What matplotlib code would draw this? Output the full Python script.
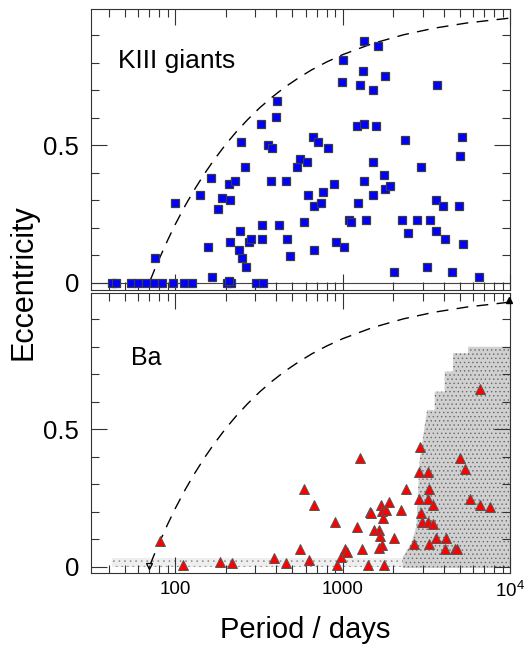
import matplotlib
matplotlib.use("Agg")
from matplotlib import pyplot as plt
from matplotlib.ticker import FixedLocator, FixedFormatter, LogLocator, NullFormatter

plt.rcParams["font.family"] = ["Liberation Sans", "DejaVu Sans"]
plt.rcParams["mathtext.fontset"] = "custom"
plt.rcParams["mathtext.rm"] = "Liberation Sans"
plt.rcParams["hatch.linewidth"] = 0.5

# KIII giants (top panel)
giant_period = [42, 44.5, 54.5, 60, 67, 74.7, 83, 97, 113, 126, 204, 215, 302, 335,
                75.7, 99, 140, 163, 157, 166, 180, 190, 209, 212, 227, 246, 259,
                212, 244, 241, 249, 265, 277, 284, 209, 326, 329, 330, 357, 378,
                375, 398, 407, 417, 459, 462, 483, 531, 553, 610, 588, 621, 659,
                707, 668, 668, 738, 759, 813, 883, 912, 1010, 982, 1005, 1083,
                1123, 1216, 1233, 1268, 1310, 1334, 1328, 1341, 1377, 1505, 1505,
                1513, 1585, 1630, 1763, 1787, 1779, 1924, 2014, 2253, 2349, 2449,
                2775, 2906, 3190, 3326, 3600, 3616, 3650, 3984, 4076, 4496, 4930,
                5023, 5140, 5238, 6457]
giant_ecc = [0, 0, 0, 0, 0, 0, 0, 0, 0, 0, 0, 0, 0, 0,
             0.089, 0.289, 0.319, 0.38, 0.129, 0.019, 0.268, 0.309, 0.36, 0.30,
             0.369, 0.51, 0.42, 0.149, 0.189, 0.119, 0.089, 0.058, 0.149, 0.159,
             0.007, 0.579, 0.209, 0.159, 0.499, 0.49, 0.369, 0.601, 0.66, 0.209,
             0.369, 0.159, 0.098, 0.42, 0.45, 0.439, 0.22, 0.319, 0.53, 0.51,
             0.279, 0.119, 0.289, 0.329, 0.49, 0.359, 0.149, 0.129, 0.729, 0.81,
             0.229, 0.22, 0.57, 0.289, 0.721, 0.771, 0.881, 0.579, 0.369, 0.229,
             0.439, 0.319, 0.701, 0.57, 0.862, 0.39, 0.751, 0.34, 0.35, 0.038,
             0.229, 0.519, 0.18, 0.229, 0.42, 0.058, 0.229, 0.189, 0.30, 0.721,
             0.279, 0.159, 0.038, 0.279, 0.46, 0.53, 0.14, 0.019]

# Ba stars (bottom panel)
ba_period = [80.8, 111, 186, 218, 387, 458, 555, 588, 631, 675, 899, 920, 977, 1024,
             1058, 1211, 1268, 1303, 1403, 1449, 1470, 1535, 1652, 1668, 1690, 1706,
             1730, 1706, 1645, 1763, 1812, 1889, 2014, 2232, 2393, 2663, 2867, 2840,
             2851, 2906, 2946, 3235, 3252, 3235, 3218, 3268, 3468, 3468, 3581, 4076,
             4113, 4645, 4790, 5000, 5359, 5745, 6543, 6543, 7590]
ba_ecc = [0.095, 0.005, 0.018, 0.015, 0.03, 0.015, 0.064, 0.283, 0.024, 0.225, 0.164,
          0.005, 0.036, 0.064, 0.055, 0.143, 0.394, 0.064, 0.005, 0.2, 0.195, 0.133,
          0.133, 0.112, 0.225, 0.204, 0.176, 0.079, 0.067, 0.005, 0.206, 0.237,
          0.103, 0.206, 0.283, 0.083, 0.434, 0.343, 0.245, 0.194, 0.164, 0.346,
          0.283, 0.245, 0.164, 0.083, 0.225, 0.154, 0.103, 0.063, 0.103, 0.063,
          0.063, 0.394, 0.354, 0.245, 0.646, 0.225, 0.216]

# upper envelope (dashed)
curve_period = [71, 75, 80, 90, 100, 115, 130, 150, 170, 200, 230, 270, 320, 380,
                450, 550, 650, 800, 1000, 1500, 2300, 3500, 5500, 10000]
curve_ecc = [0.009, 0.045, 0.085, 0.154, 0.212, 0.282, 0.338, 0.398, 0.446, 0.503,
             0.547, 0.593, 0.637, 0.676, 0.711, 0.747, 0.774, 0.803, 0.830, 0.870,
             0.902, 0.926, 0.945, 0.963]

# simulated population, outline of the dense region (left edge vs eccentricity)
sim_ecc = [-0.005, 0.035, 0.086, 0.145, 0.39, 0.57, 0.57, 0.637, 0.637, 0.71, 0.71,
           0.777, 0.777, 0.80]
sim_left = [2280, 2280, 2560, 2745, 2870, 3180, 3530, 3530, 4050, 4050, 4540, 4540,
            5585, 5585]
# sparse band at low eccentricity
band_period = [42, 2280]
band_low = [-0.002, -0.002]
band_high = [0.032, 0.032]

fig = plt.figure(figsize=(5.31, 6.45), dpi=100)
ax1 = fig.add_axes([0.1723, 0.5504, 0.789, 0.4357])
ax2 = fig.add_axes([0.1723, 0.1121, 0.789, 0.4332])

for ax in (ax1, ax2):
    ax.set_xscale("log")
    ax.set_xlim(10 ** 1.5, 1e4)
    ax.plot(curve_period, curve_ecc, color="black", lw=1.0, dashes=(8.5, 6), zorder=4)
    ax.yaxis.set_major_locator(FixedLocator([0, 0.5]))
    ax.yaxis.set_major_formatter(FixedFormatter(["0", "0.5"]))
    ax.yaxis.set_minor_locator(FixedLocator([0.1, 0.2, 0.3, 0.4, 0.6, 0.7, 0.8, 0.9]))
    ax.xaxis.set_major_locator(FixedLocator([100, 1000, 10000]))
    ax.xaxis.set_minor_locator(LogLocator(subs=range(2, 10)))
    ax.xaxis.set_minor_formatter(NullFormatter())
    ax.tick_params(which="both", direction="in", top=True, right=True,
                   width=0.8, color="#333333")
    ax.tick_params(which="major", length=11.5, labelsize=18.5, pad=9)
    ax.tick_params(which="minor", length=6)
    ax.tick_params(axis="x", labelsize=13.5, pad=6)
    for s in ax.spines.values():
        s.set_linewidth(0.8)
        s.set_color("#333333")

ax1.set_ylim(-0.027, 0.996)
ax2.set_ylim(-0.022, 0.995)

ax1.axhline(0, color="#444444", lw=0.8, zorder=1)
ax1.plot(giant_period, giant_ecc, "s", ms=5.5, mfc="#0000ff", mec="#3c3c3c",
         mew=0.9, zorder=5)
ax1.tick_params(axis="x", labelbottom=False)
ax1.text(0.064, 0.789, "KIII giants", transform=ax1.transAxes, fontsize=19,
         va="baseline")

ax2.fill_between(band_period, band_low, band_high, facecolor="#eeeeee",
                 hatch="...", edgecolor="#959595", lw=0, zorder=1)
ax2.fill_betweenx(sim_ecc, sim_left, 1e4, facecolor="#d0d0d0", hatch="....",
                  edgecolor="#686868", lw=0, zorder=1)
ax2.plot(ba_period, ba_ecc, "^", ms=7, mfc="#ff0000", mec="#555555", mew=0.7,
         zorder=5)
ax2.plot([9750], [0.97], "^", ms=5, color="black", zorder=6, clip_on=False)
ax2.plot([70], [0.004], "v", ms=4.5, mfc="none", mec="black", mew=0.9, zorder=6)
ax2.xaxis.set_major_formatter(FixedFormatter(["100", "1000", r"$\mathregular{10^4}$"]))
ax2.text(0.095, 0.743, "Ba", transform=ax2.transAxes, fontsize=18, va="baseline")

fig.text(0.045, 1 - 282 / 645, "Eccentricity", rotation=90, fontsize=22,
         ha="center", va="center")
fig.text(305 / 531, 0.0103, "Period / days", fontsize=21, ha="center",
         va="baseline")

fig.savefig("out.png", dpi=100)
